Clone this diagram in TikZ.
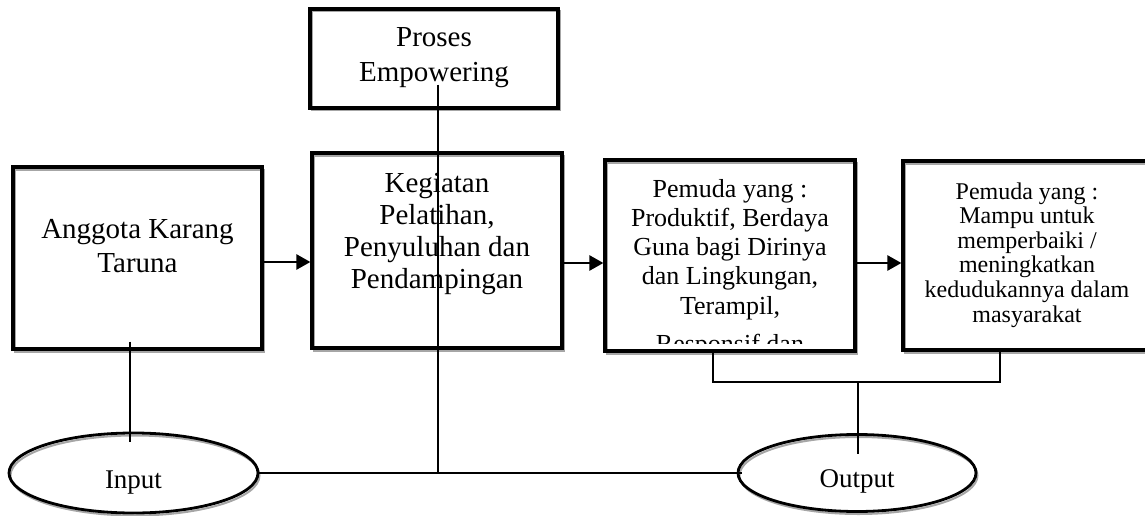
\documentclass[tikz,border=0pt]{standalone}
\usepackage{fontspec}
\setmainfont{Liberation Serif}
\usetikzlibrary{arrows.meta,shapes.geometric}
\newcommand\btxt[3]{\fontsize{#1}{#2}\selectfont\begin{tabular}[t]{@{}c@{}}#3\end{tabular}}
\tikzset{
  shad/.style={preaction={draw=black!35,line width=2pt,transform canvas={shift={(1.5pt,-2.5pt)}}}},
  bx/.style={shad,draw=black,line width=3.2pt,rectangle,inner sep=0pt},
  ell/.style={shad,draw=black,line width=2.8pt,ellipse,inner sep=0pt},
  tx/.style={anchor=base,inner sep=0pt},
  con/.style={draw=black,line width=2.5pt},
  arr/.style={con,-{Triangle[length=14pt,width=15pt]}}
}
\begin{document}
\begin{tikzpicture}[x=1pt,y=-1pt]
\useasboundingbox (0,0) rectangle (1145,516);
% boxes
\node[bx,minimum width=249pt,minimum height=182pt] (b1) at (137.5,258) {};
\node[bx,minimum width=248pt,minimum height=99pt] (pr) at (434,58.5) {};
\node[bx,minimum width=250pt,minimum height=195pt] (kg) at (437,250.5) {};
\node[bx,minimum width=250pt,minimum height=191pt] (b3) at (730,255.5) {};
\node[bx,minimum width=249pt,minimum height=189pt] (b4) at (1027.5,255.5) {};
\node[ell,minimum width=249pt,minimum height=80pt] (in) at (133.5,473) {};
\node[ell,minimum width=238pt,minimum height=77pt] (out) at (857,473) {};
% texts
\node[tx] (t1) at (137.5,238) {\btxt{29}{34}{Anggota Karang\\Taruna}};
\node[tx] (tp) at (434,47) {\btxt{29}{34.5}{Proses\\Empowering}};
\node[tx] (tk) at (437,192) {\btxt{29}{32}{Kegiatan\\Pelatihan,\\Penyuluhan dan\\Pendampingan}};
\begin{scope}
\clip (607,163) rectangle (853,343);
\node[tx] (t3) at (730,197) {\btxt{26}{29.3}{Pemuda yang :\\Produktif, Berdaya\\Guna bagi Dirinya\\dan Lingkungan,\\Terampil,\\[9pt]Responsif dan}};
\end{scope}
\node[tx] (t4) at (1027,199) {\btxt{24}{24.6}{Pemuda yang :\\Mampu untuk\\memperbaiki /\\meningkatkan\\kedudukannya dalam\\masyarakat}};
\node[tx] (ti) at (133.5,488) {\fontsize{27}{32}\selectfont Input};
\node[tx] (to) at (857,487) {\fontsize{27}{32}\selectfont Output};
% connectors
\coordinate (ay1) at (0,262);
\coordinate (ay2) at (0,263);
\draw[arr] (b1.east |- ay1) -- (kg.west |- ay1);
\draw[arr] (kg.east |- ay2) -- (b3.west |- ay2);
\draw[arr] (b3.east |- ay2) -- (b4.west |- ay2);
\draw[con] ([shift={(-7.5,-9)}]b1.south) -- ([shift={(-3.5,10)}]in.north);
\coordinate (j) at (438,473);
\draw[con] ([shift={(4,-25)}]pr.south) -- (j);
\draw[con] (in.east) -- ([xshift=5]out.west);
\coordinate (m) at (858,382);
\draw[con] ([shift={(-17,-3)}]b3.south) |- (m) -| ([shift={(-27.5,0)}]b4.south);
\draw[con] (m) -- ([shift={(1,21)}]out.north);
\end{tikzpicture}
\end{document}
